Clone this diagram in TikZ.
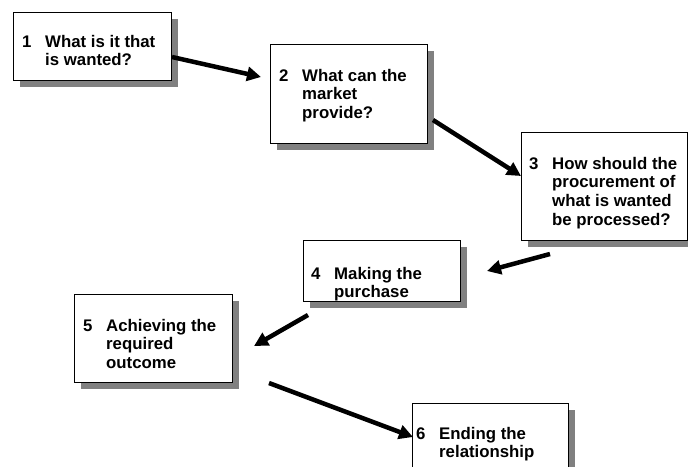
\documentclass[tikz,border=0pt]{standalone}
\usepackage{fontspec}
\setmainfont{Liberation Sans}
\usetikzlibrary{arrows.meta,shadows}
\definecolor{shadowgray}{HTML}{808080}
\tikzset{
  stepbox/.style={draw=black, line width=0.9pt, fill=white, inner sep=0pt,
    drop shadow={shadow xshift=7pt, shadow yshift=-7pt, fill=shadowgray, opacity=1}},
  steptext/.style={anchor=base west, inner sep=0pt,
    font=\fontsize{16.8}{18.8}\selectfont\bfseries},
  flow/.style={line width=4.5pt, -{Triangle[length=14pt,width=14pt]}}
}
\newcommand{\steplines}[2]{\begin{tabular}[t]{@{}p{23pt}@{}l@{}}#1 & #2\end{tabular}}
\begin{document}
\begin{tikzpicture}[x=1pt,y=-1pt]
\useasboundingbox (0,0) rectangle (688,466);
\clip (0,0) rectangle (688,466);
% boxes
\node[stepbox, minimum width=158pt, minimum height=68pt] (b1) at (92,46) {};
\node[stepbox, minimum width=157pt, minimum height=99pt] (b2) at (348.5,93.5) {};
\node[stepbox, minimum width=166pt, minimum height=108pt] (b3) at (604,186) {};
\node[stepbox, minimum width=157pt, minimum height=61pt] (b4) at (381.5,270.5) {};
\node[stepbox, minimum width=158pt, minimum height=88pt] (b5) at (153,338) {};
\node[stepbox, minimum width=156pt, minimum height=68pt] (b6) at (490,437) {};
% texts
\node[steptext] (t1) at (22,47) {\steplines{1}{What is it that\\ & is wanted?}};
\node[steptext] (t2) at (279,81) {\steplines{2}{What can the\\ & market\\ & provide?}};
\node[steptext] (t3) at (529,169) {\steplines{3}{How should the\\ & procurement of\\ & what is wanted\\ & be processed?}};
\node[steptext] (t4) at (311,279) {\steplines{4}{Making the\\ & purchase}};
\node[steptext] (t5) at (83,331) {\steplines{5}{Achieving the\\ & required\\ & outcome}};
\node[steptext] (t6) at (416,439) {\steplines{6}{Ending the\\ & relationship}};
% connector end points
\coordinate (a1s) at (172,57);
\coordinate (a1e) at (261,77);
\coordinate (a2s) at (433,120);
\coordinate (a2e) at (521,176);
\coordinate (a3s) at (550,254);
\coordinate (a3e) at (487,271);
\coordinate (a4s) at (308,315);
\coordinate (a4e) at (254,346);
\coordinate (a5s) at (269,383);
\coordinate (a5e) at (413,437);
\draw[flow] (a1s) -- (a1e);
\draw[flow] (a2s) -- (a2e);
\draw[flow] (a3s) -- (a3e);
\draw[flow] (a4s) -- (a4e);
\draw[flow] (a5s) -- (a5e);
\end{tikzpicture}
\end{document}
